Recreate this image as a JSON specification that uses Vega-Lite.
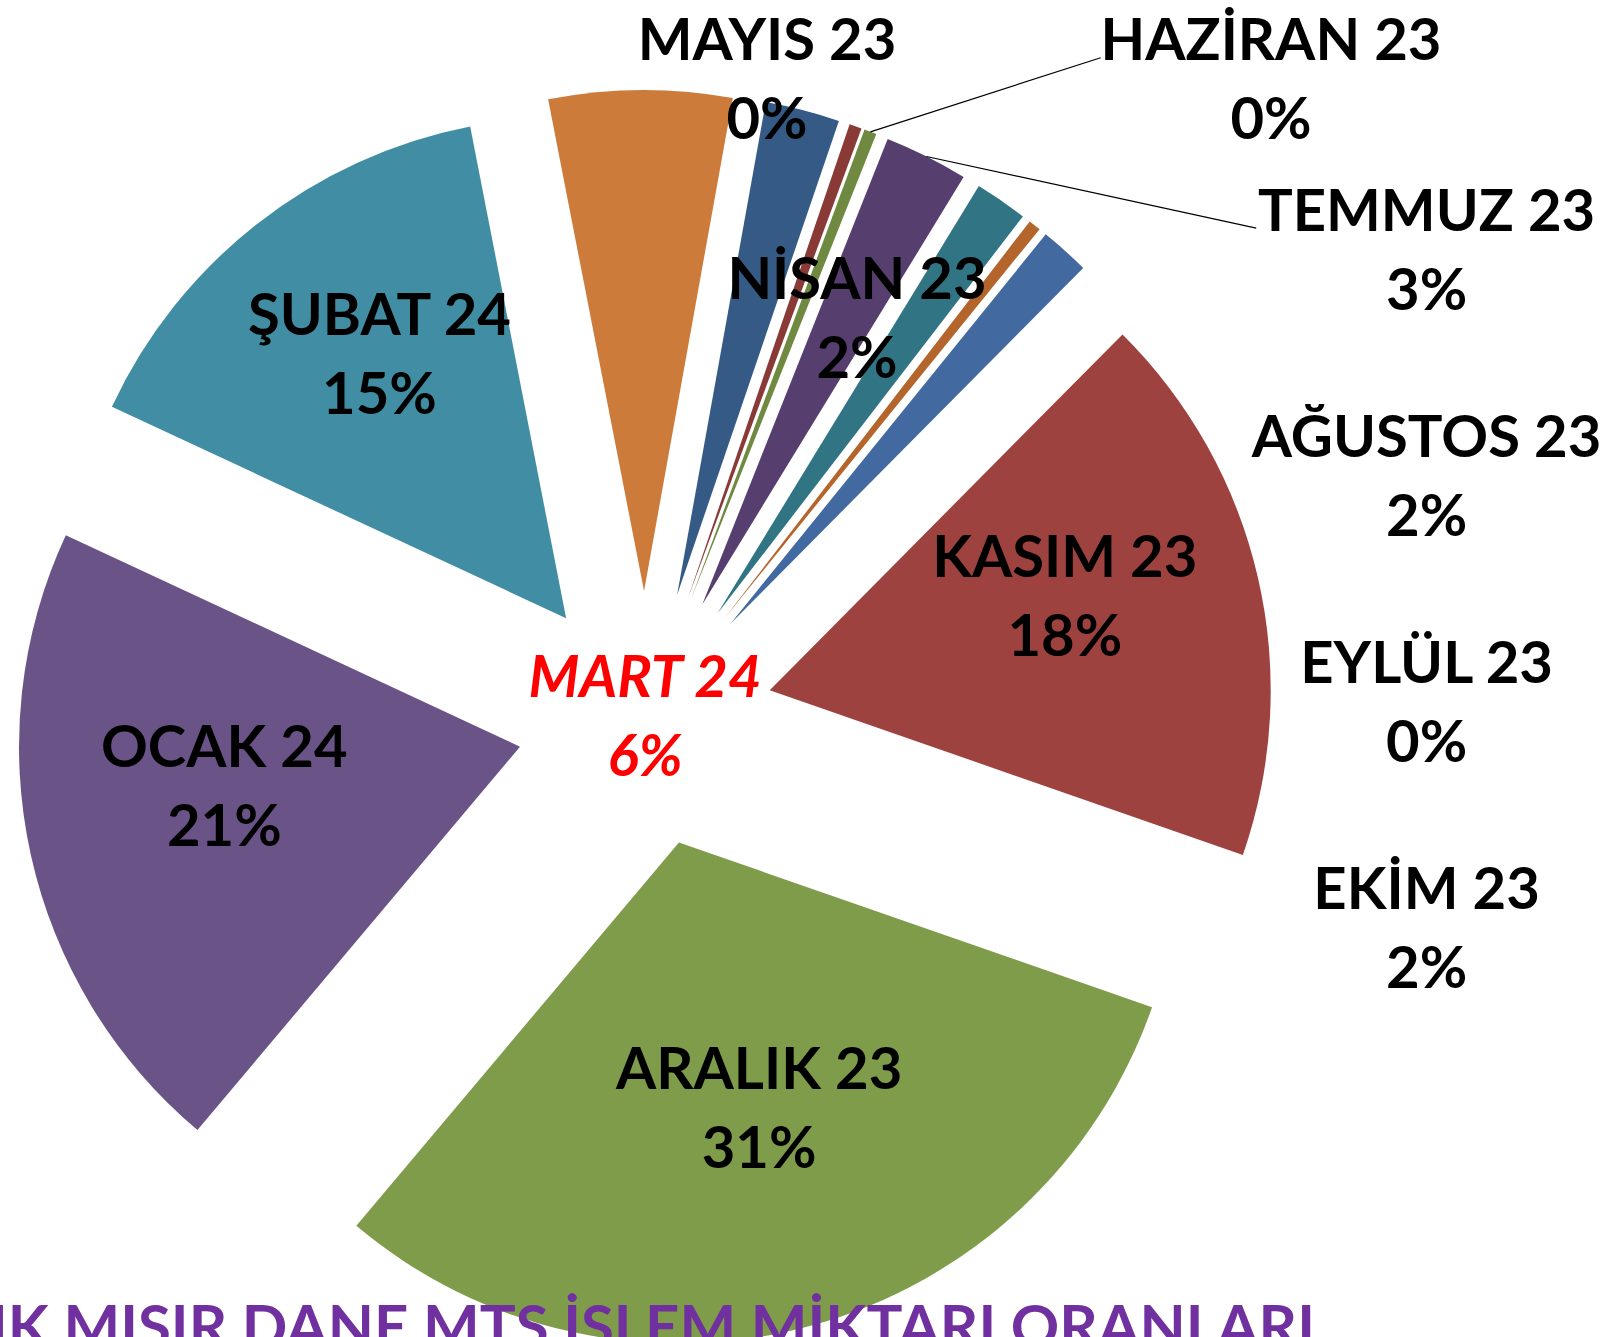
{
  "$schema": "https://vega.github.io/schema/vega-lite/v6.json",
  "width": 1614,
  "height": 1337,
  "padding": 0,
  "autosize": {"type": "none"},
  "background": "white",
  "config": {"view": {"stroke": null}, "font": "Lato"},
  "title": {
    "text": "AYLIK MISIR DANE MTS İŞLEM MİKTARI ORANLARI",
    "orient": "bottom",
    "anchor": "end",
    "offset": -42,
    "dx": -299,
    "baseline": "top",
    "color": "#7030A0",
    "font": "Lato",
    "fontSize": 60,
    "fontWeight": "bold"
  },
  "data": {
    "values": [
      {"month": "EKİM 23", "value": 1.6},
      {"month": "KASIM 23", "value": 17.9},
      {"month": "ARALIK 23", "value": 30.8},
      {"month": "OCAK 24", "value": 20.8},
      {"month": "ŞUBAT 24", "value": 15.0},
      {"month": "MART 24", "value": 5.9},
      {"month": "NİSAN 23", "value": 2.4},
      {"month": "MAYIS 23", "value": 0.4},
      {"month": "HAZİRAN 23", "value": 0.4},
      {"month": "TEMMUZ 23", "value": 2.7},
      {"month": "AĞUSTOS 23", "value": 1.7},
      {"month": "EYLÜL 23", "value": 0.4}
    ]
  },
  "transform": [
    {"joinaggregate": [{"op": "sum", "field": "value", "as": "total"}]},
    {"window": [{"op": "sum", "field": "value", "as": "cum"}], "frame": [null, 0]},
    {"calculate": "PI/180*39 + 2*PI*(datum.cum - datum.value)/datum.total", "as": "a0"},
    {"calculate": "PI/180*39 + 2*PI*datum.cum/datum.total", "as": "a1"},
    {"calculate": "(datum.a0 + datum.a1)/2", "as": "mid"},
    {"calculate": "0.2555*sin(datum.mid)", "as": "ex"},
    {"calculate": "0.2555*cos(datum.mid)", "as": "ey"},
    {"calculate": "[datum.month, format(datum.value/datum.total, '.0%')]", "as": "label"},
    {"calculate": "datum.value/datum.total < 0.03 ? 'small' : 'big'", "as": "size_class"},
    {"calculate": "(datum.mid*180/PI) % 360", "as": "middeg"},
    {"joinaggregate": [{"op": "mean", "field": "middeg", "as": "fanmid"}], "groupby": ["size_class"]},
    {"window": [{"op": "row_number", "as": "k"}], "groupby": ["size_class"], "sort": [{"field": "middeg"}]},
    {"calculate": "datum.size_class == 'small' && datum.k > 1 ? datum.k - 2 : -1", "as": "slot"},
    {"calculate": "datum.month == 'MART 24' ? 0 : (datum.size_class == 'small' && datum.slot < 0 ? 0.9*sin(PI/180*datum.fanmid) : (datum.slot < 0 ? 0.86*sin(datum.mid) : (datum.slot < 2 ? 0.2435 + datum.slot*1.006 : 1.56)))", "as": "lx"},
    {"calculate": "datum.month == 'MART 24' ? 0 : (datum.size_class == 'small' && datum.slot < 0 ? 0.9*cos(PI/180*datum.fanmid) : (datum.slot < 0 ? 0.86*cos(datum.mid) + 0.045 : (datum.slot < 2 ? 1.27 : 0.93 - (datum.slot - 2)*0.4517)))", "as": "ly"},
    {"calculate": "1.2555*sin(datum.mid)", "as": "sx"},
    {"calculate": "1.2555*cos(datum.mid)", "as": "sy"},
    {"calculate": "datum.lx - 0.34", "as": "tx"},
    {"calculate": "datum.ly + 0.05", "as": "ty"}
  ],
  "layer": [
    {
      "mark": {"type": "arc", "radius": 501},
      "encoding": {
        "x": {"field": "ex", "type": "quantitative", "scale": {"domain": [-1.2874, 1.9341], "nice": false, "zero": false}, "axis": null},
        "y": {"field": "ey", "type": "quantitative", "scale": {"domain": [-1.2335, 1.4352], "nice": false, "zero": false}, "axis": null},
        "theta": {"field": "a0", "type": "quantitative", "scale": null, "stack": null},
        "theta2": {"field": "a1"},
        "color": {
          "field": "month",
          "type": "nominal",
          "legend": null,
          "scale": {
            "domain": ["EKİM 23", "KASIM 23", "ARALIK 23", "OCAK 24", "ŞUBAT 24", "MART 24", "NİSAN 23", "MAYIS 23", "HAZİRAN 23", "TEMMUZ 23", "AĞUSTOS 23", "EYLÜL 23"],
            "range": ["#426AA0", "#9E4240", "#7F9C4A", "#6A5387", "#418EA4", "#CC7B3A", "#355A85", "#8A3A36", "#6F8A40", "#563F6E", "#317585", "#B4652C"]
          }
        }
      }
    },
    {
      "transform": [{"filter": "datum.slot == 1 || datum.slot == 2"}],
      "mark": {"type": "rule", "color": "#000000", "strokeWidth": 1.2},
      "encoding": {
        "x": {"field": "sx", "type": "quantitative", "scale": {"domain": [-1.2874, 1.9341], "nice": false, "zero": false}, "axis": null},
        "y": {"field": "sy", "type": "quantitative", "scale": {"domain": [-1.2335, 1.4352], "nice": false, "zero": false}, "axis": null},
        "x2": {"field": "tx"},
        "y2": {"field": "ty"}
      }
    },
    {
      "transform": [{"filter": "datum.month != 'MART 24'"}],
      "mark": {"type": "text", "font": "Lato", "fontSize": 58, "fontWeight": "bold", "lineHeight": 79, "dy": -39.5, "align": "center", "baseline": "middle", "color": "#000000"},
      "encoding": {
        "x": {"field": "lx", "type": "quantitative", "scale": {"domain": [-1.2874, 1.9341], "nice": false, "zero": false}, "axis": null},
        "y": {"field": "ly", "type": "quantitative", "scale": {"domain": [-1.2335, 1.4352], "nice": false, "zero": false}, "axis": null},
        "text": {"field": "label"}
      }
    },
    {
      "transform": [{"filter": "datum.month == 'MART 24'"}],
      "mark": {"type": "text", "font": "Lato", "fontSize": 58, "fontWeight": "bold", "fontStyle": "italic", "lineHeight": 79, "dy": -39.5, "align": "center", "baseline": "middle", "color": "#FF0000"},
      "encoding": {
        "x": {"field": "lx", "type": "quantitative", "scale": {"domain": [-1.2874, 1.9341], "nice": false, "zero": false}, "axis": null},
        "y": {"field": "ly", "type": "quantitative", "scale": {"domain": [-1.2335, 1.4352], "nice": false, "zero": false}, "axis": null},
        "text": {"field": "label"}
      }
    }
  ]
}
